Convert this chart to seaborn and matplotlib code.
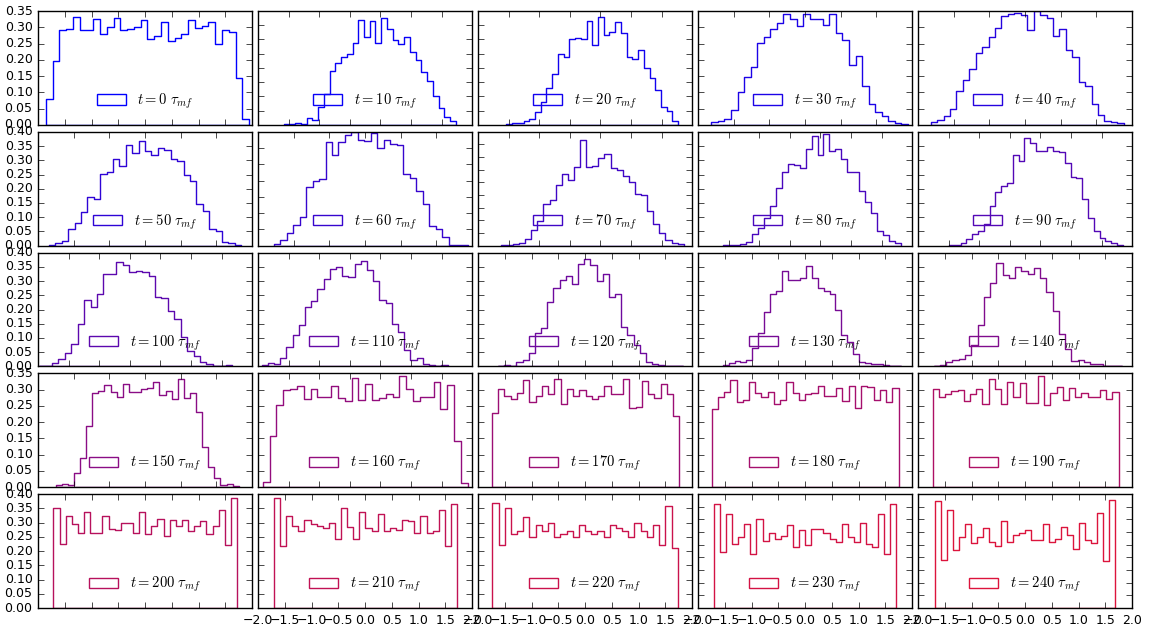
import numpy as np
import matplotlib
matplotlib.use("Agg")
import matplotlib.pyplot as plt
from matplotlib.patches import Patch
from matplotlib.colors import to_rgb
import seaborn as sns

plt.style.use("classic")
plt.rcParams["mathtext.fontset"] = "cm"
plt.rcParams["figure.facecolor"] = "white"
plt.rcParams["savefig.facecolor"] = "white"
plt.rcParams["xtick.labelsize"] = 9
plt.rcParams["ytick.labelsize"] = 9

times = [0, 10, 20, 30, 40, 50, 60, 70, 80, 90, 100, 110, 120, 130, 140,
         150, 160, 170, 180, 190, 200, 210, 220, 230, 240]

h000 = [0.080, 0.197, 0.292, 0.295, 0.333, 0.292, 0.292, 0.326, 0.279, 0.301, 0.330, 0.292, 0.295, 0.300, 0.323,
        0.264, 0.273, 0.317, 0.259, 0.268, 0.279, 0.323, 0.297, 0.305, 0.317, 0.250, 0.292, 0.285, 0.143, 0.019]
h010 = [0.004, 0.004, 0.006, 0.004, 0.023, 0.018, 0.064, 0.108, 0.189, 0.216, 0.237, 0.248, 0.289, 0.368, 0.310,
        0.365, 0.289, 0.374, 0.337, 0.298, 0.283, 0.310, 0.255, 0.228, 0.187, 0.154, 0.103, 0.058, 0.029, 0.012]
h020 = [0.004, 0.006, 0.006, 0.012, 0.021, 0.044, 0.082, 0.129, 0.178, 0.249, 0.237, 0.301, 0.304, 0.301, 0.366,
        0.281, 0.378, 0.316, 0.327, 0.363, 0.322, 0.240, 0.230, 0.263, 0.201, 0.164, 0.123, 0.064, 0.047, 0.014]
h030 = [0.010, 0.012, 0.017, 0.046, 0.102, 0.146, 0.177, 0.253, 0.271, 0.295, 0.312, 0.341, 0.327, 0.304, 0.341,
        0.324, 0.324, 0.307, 0.341, 0.281, 0.261, 0.184, 0.213, 0.121, 0.064, 0.039, 0.026, 0.013, 0.007, 0.003]
h040 = [0.008, 0.015, 0.028, 0.049, 0.104, 0.138, 0.171, 0.220, 0.238, 0.270, 0.297, 0.335, 0.341, 0.344, 0.338,
        0.292, 0.349, 0.338, 0.330, 0.274, 0.295, 0.230, 0.210, 0.131, 0.121, 0.064, 0.031, 0.013, 0.010, 0.005]
h050 = [0.004, 0.008, 0.015, 0.057, 0.080, 0.119, 0.172, 0.164, 0.252, 0.259, 0.306, 0.281, 0.353, 0.326, 0.366,
        0.332, 0.320, 0.342, 0.336, 0.303, 0.297, 0.249, 0.226, 0.148, 0.122, 0.057, 0.053, 0.014, 0.008, 0.002]
h060 = [0.005, 0.018, 0.039, 0.062, 0.088, 0.179, 0.200, 0.205, 0.318, 0.280, 0.319, 0.340, 0.349, 0.326, 0.321,
        0.347, 0.300, 0.326, 0.311, 0.308, 0.220, 0.207, 0.168, 0.127, 0.060, 0.052, 0.026, 0.002, 0.002, 0.001]
h070 = [0.001, 0.003, 0.005, 0.011, 0.027, 0.063, 0.097, 0.166, 0.180, 0.240, 0.282, 0.260, 0.309, 0.419, 0.309,
        0.313, 0.346, 0.363, 0.306, 0.300, 0.277, 0.253, 0.206, 0.200, 0.136, 0.084, 0.051, 0.023, 0.009, 0.005]
h080 = [0.002, 0.002, 0.002, 0.006, 0.014, 0.041, 0.062, 0.097, 0.140, 0.201, 0.258, 0.286, 0.284, 0.272, 0.340,
        0.387, 0.317, 0.391, 0.331, 0.340, 0.305, 0.260, 0.260, 0.192, 0.154, 0.116, 0.051, 0.036, 0.018, 0.008]
h090 = [0.004, 0.004, 0.009, 0.024, 0.041, 0.050, 0.077, 0.138, 0.187, 0.209, 0.219, 0.320, 0.298, 0.379, 0.361,
        0.334, 0.331, 0.346, 0.331, 0.328, 0.290, 0.240, 0.237, 0.163, 0.097, 0.053, 0.027, 0.018, 0.009, 0.004]
h100 = [0.001, 0.001, 0.012, 0.026, 0.047, 0.080, 0.150, 0.232, 0.208, 0.256, 0.326, 0.325, 0.366, 0.356, 0.332,
        0.337, 0.332, 0.317, 0.244, 0.241, 0.196, 0.168, 0.102, 0.055, 0.038, 0.015, 0.009, 0.002, 0.000, 0.004]
h110 = [0.006, 0.012, 0.009, 0.029, 0.067, 0.112, 0.147, 0.209, 0.231, 0.272, 0.308, 0.344, 0.349, 0.317, 0.315,
        0.360, 0.372, 0.340, 0.299, 0.235, 0.223, 0.150, 0.121, 0.059, 0.023, 0.029, 0.008, 0.006, 0.000, 0.004]
h120 = [0.002, 0.006, 0.003, 0.017, 0.023, 0.047, 0.117, 0.134, 0.225, 0.274, 0.303, 0.318, 0.288, 0.361, 0.377,
        0.356, 0.300, 0.326, 0.243, 0.253, 0.140, 0.111, 0.076, 0.047, 0.017, 0.009, 0.006, 0.003, 0.001, 0.002]
h130 = [0.006, 0.012, 0.020, 0.015, 0.023, 0.066, 0.117, 0.192, 0.253, 0.266, 0.335, 0.305, 0.303, 0.309, 0.353,
        0.312, 0.276, 0.265, 0.253, 0.198, 0.111, 0.087, 0.043, 0.015, 0.012, 0.009, 0.008, 0.006, 0.003, 0.003]
h140 = [0.002, 0.006, 0.017, 0.021, 0.027, 0.041, 0.076, 0.146, 0.245, 0.292, 0.365, 0.323, 0.311, 0.350, 0.335,
        0.326, 0.346, 0.309, 0.262, 0.195, 0.113, 0.061, 0.020, 0.023, 0.017, 0.009, 0.008, 0.002, 0.000, 0.002]
h150 = [0.008, 0.010, 0.008, 0.044, 0.090, 0.188, 0.291, 0.296, 0.314, 0.293, 0.278, 0.318, 0.293, 0.293, 0.301,
        0.306, 0.323, 0.285, 0.296, 0.270, 0.334, 0.275, 0.291, 0.232, 0.124, 0.062, 0.027, 0.008, 0.010, 0.003]
h160 = [0.017, 0.157, 0.252, 0.298, 0.301, 0.311, 0.272, 0.303, 0.277, 0.277, 0.310, 0.274, 0.265, 0.336, 0.267,
        0.318, 0.267, 0.274, 0.287, 0.277, 0.341, 0.303, 0.264, 0.277, 0.277, 0.323, 0.241, 0.313, 0.141, 0.012]
h170 = [0.227, 0.301, 0.281, 0.271, 0.291, 0.330, 0.263, 0.281, 0.310, 0.286, 0.334, 0.257, 0.301, 0.281, 0.298,
        0.281, 0.271, 0.279, 0.310, 0.288, 0.286, 0.334, 0.245, 0.248, 0.327, 0.288, 0.274, 0.317, 0.288, 0.219]
h180 = [0.240, 0.276, 0.294, 0.329, 0.263, 0.269, 0.322, 0.291, 0.278, 0.294, 0.257, 0.267, 0.322, 0.291, 0.269,
        0.286, 0.289, 0.312, 0.279, 0.279, 0.305, 0.265, 0.310, 0.245, 0.312, 0.307, 0.269, 0.299, 0.262, 0.305]
h190 = [0.301, 0.278, 0.286, 0.296, 0.298, 0.265, 0.286, 0.301, 0.257, 0.332, 0.301, 0.257, 0.324, 0.276, 0.319,
        0.260, 0.260, 0.343, 0.253, 0.291, 0.307, 0.267, 0.305, 0.276, 0.291, 0.276, 0.276, 0.299, 0.271, 0.293]
h200 = [0.353, 0.225, 0.324, 0.295, 0.263, 0.336, 0.263, 0.263, 0.324, 0.277, 0.274, 0.298, 0.298, 0.263, 0.339,
        0.260, 0.287, 0.312, 0.254, 0.310, 0.287, 0.310, 0.269, 0.287, 0.307, 0.260, 0.287, 0.344, 0.221, 0.388]
h210 = [0.385, 0.219, 0.324, 0.287, 0.269, 0.310, 0.295, 0.287, 0.281, 0.297, 0.242, 0.350, 0.283, 0.242, 0.339,
        0.280, 0.269, 0.332, 0.269, 0.281, 0.274, 0.309, 0.304, 0.262, 0.324, 0.262, 0.269, 0.344, 0.217, 0.367]
h220 = [0.370, 0.220, 0.350, 0.260, 0.270, 0.320, 0.250, 0.290, 0.270, 0.300, 0.250, 0.260, 0.270, 0.250, 0.290,
        0.270, 0.260, 0.270, 0.250, 0.290, 0.280, 0.270, 0.250, 0.300, 0.270, 0.250, 0.290, 0.220, 0.360, 0.210]
h230 = [0.410, 0.221, 0.370, 0.254, 0.280, 0.331, 0.214, 0.353, 0.265, 0.295, 0.271, 0.284, 0.328, 0.241, 0.308,
        0.249, 0.314, 0.311, 0.298, 0.271, 0.261, 0.333, 0.282, 0.261, 0.337, 0.255, 0.242, 0.373, 0.214, 0.410]
h240 = [0.423, 0.189, 0.388, 0.231, 0.282, 0.333, 0.258, 0.282, 0.317, 0.261, 0.247, 0.344, 0.262, 0.287, 0.295,
        0.307, 0.267, 0.267, 0.333, 0.261, 0.271, 0.321, 0.287, 0.235, 0.337, 0.269, 0.258, 0.374, 0.185, 0.427]

heights = [h000, h010, h020, h030, h040, h050, h060, h070, h080, h090, h100, h110, h120, h130, h140,
           h150, h160, h170, h180, h190, h200, h210, h220, h230, h240]

# first and last bin edge of each histogram (data range)
data_lo = [-1.856, -3.163, -3.076, -2.628, -2.646, -2.694, -2.562, -3.258, -3.195, -2.985,
           -2.965, -2.888, -3.256, -3.080, -3.416, -2.508, -1.923, -1.740, -1.747, -1.724,
           -1.714, -1.705, -1.732, -1.705, -1.684]
data_hi = [1.944, 2.468, 2.545, 2.886, 2.766, 2.694, 2.886, 2.727, 2.622, 2.692,
           3.349, 3.202, 3.656, 3.576, 3.608, 2.628, 1.430, 1.764, 1.747, 1.748,
           1.720, 1.720, 1.732, 1.708, 1.690]

x_lo = [-2, -4, -4, -3, -3, -3, -3, -4, -4, -4, -3, -3, -4, -4, -4, -3, -2, -2, -2, -2, -2, -2, -2, -2, -2]
x_hi = [2, 3, 3, 3, 3, 3, 3, 3, 3, 3, 4, 4, 4, 4, 4, 3, 1.5, 2, 2, 2, 2, 2, 2, 2, 2]
y_top = [0.35, 0.40, 0.40, 0.35, 0.35, 0.40, 0.35, 0.45, 0.40, 0.40,
         0.40, 0.40, 0.40, 0.40, 0.40, 0.35, 0.35, 0.35, 0.35, 0.35,
         0.40, 0.40, 0.40, 0.45, 0.45]

start_rgb = np.array(to_rgb("#0000ff"))
end_rgb = np.array(to_rgb("#dc143c"))

fig, axes = plt.subplots(5, 5, figsize=(11.54, 6.30), dpi=100)
fig.subplots_adjust(left=0.033, right=0.981, top=0.9825, bottom=0.0349,
                    wspace=0.028, hspace=0.061)

n = len(times)
for i, ax in enumerate(axes.flat):
    row, col = divmod(i, 5)
    h = np.asarray(heights[i], dtype=float)
    nb = len(h)
    step = (data_hi[i] - data_lo[i]) / nb
    centers = data_lo[i] + step * (np.arange(nb) + 0.5)
    frac = i / (n - 1)
    color = tuple((1 - frac) * start_rgb + frac * end_rgb)
    sns.histplot(x=centers, weights=h, bins=nb, binrange=(data_lo[i], data_hi[i]),
                 element="step", fill=True, color=color, facecolor="none",
                 edgecolor=color, linewidth=1.0, ax=ax)
    ax.set_xlim(x_lo[i], x_hi[i])
    ax.set_ylim(0, y_top[i])
    ax.set_xlabel("")
    ax.set_ylabel("")
    label = r"$t=%d\ \tau_{mf}$" % times[i]
    handle = Patch(facecolor="none", edgecolor=color, linewidth=1.0)
    ax.legend([handle], [label], loc="lower center", bbox_to_anchor=(0.5, 0.07),
              frameon=False, fontsize=10.5, borderaxespad=0.0)
    if col != 0:
        ax.tick_params(labelleft=False)
    if row != 4 or col == 0:
        ax.tick_params(labelbottom=False)

fig.savefig("out.png", dpi=100)
